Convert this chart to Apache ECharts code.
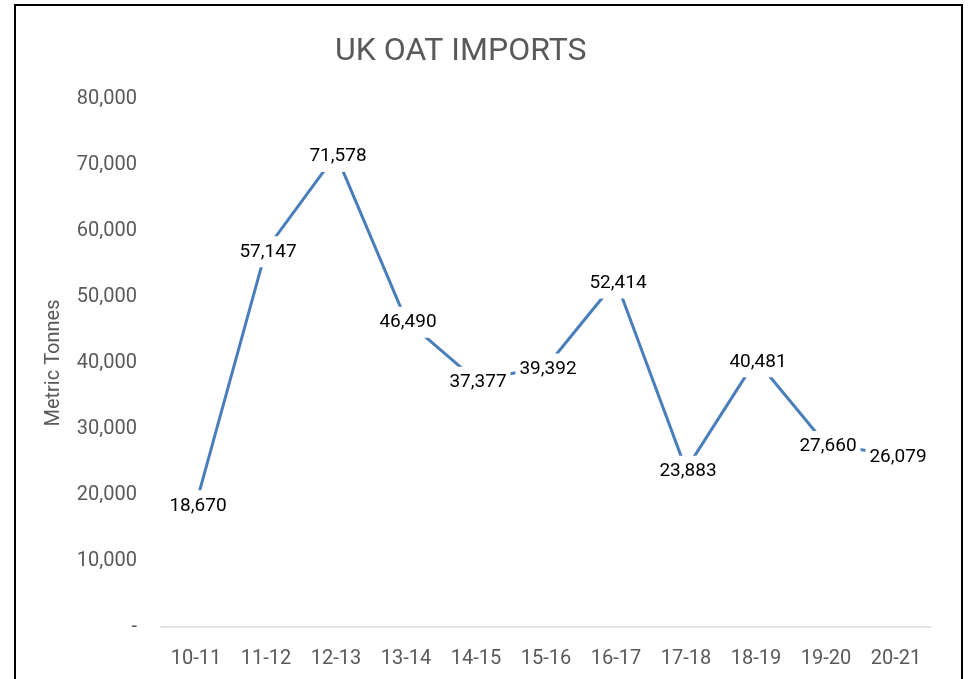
<!DOCTYPE html>
<html>
<head>
<meta charset="utf-8">
<script src="https://cdn.jsdelivr.net/npm/echarts@6/dist/echarts.min.js"></script>
<style>
  html, body { margin: 0; padding: 0; background: #fff; }
  #chart { width: 969px; height: 679px; }
</style>
</head>
<body>
<div id="chart"></div>
<script>
const seasons = ["10-11", "11-12", "12-13", "13-14", "14-15", "15-16", "16-17", "17-18", "18-19", "19-20", "20-21"];
const imports = [18670, 57147, 71578, 46490, 37377, 39392, 52414, 23883, 40481, 27660, 26079];

const myChart = echarts.init(document.getElementById("chart"));
const fmt = v => v === 0 ? "-" : v.toLocaleString("en-GB");

const option = {
  animation: false,
  textStyle: { fontFamily: "Roboto" },
  graphic: [{
    type: "rect",
    shape: { x: 15, y: 5, width: 947, height: 720 },
    style: { fill: "none", stroke: "#000", lineWidth: 2 },
    silent: true
  }],
  title: {
    text: "UK OAT IMPORTS",
    left: 330,
    top: 31,
    textStyle: { fontSize: 32, fontWeight: "normal", color: "#595959", fontFamily: "Roboto" }
  },
  grid: { left: 161, right: 38, top: 99, bottom: 52 },
  xAxis: {
    type: "category",
    data: seasons,
    axisLine: { lineStyle: { color: "#d9d9d9", width: 1.5 } },
    axisTick: { show: false },
    axisLabel: { color: "#595959", fontSize: 20, margin: 22 }
  },
  yAxis: {
    type: "value",
    min: 0,
    max: 80000,
    interval: 10000,
    name: "Metric Tonnes",
    nameLocation: "middle",
    nameGap: 97,
    nameTextStyle: { color: "#595959", fontSize: 20 },
    splitLine: { show: false },
    axisLine: { show: false },
    axisTick: { show: false },
    axisLabel: { color: "#595959", fontSize: 20, margin: 24, formatter: fmt }
  },
  series: [{
    type: "line",
    data: imports,
    symbol: "circle",
    symbolSize: 0.1,
    itemStyle: { color: "#4a7ebb" },
    lineStyle: { color: "#4a7ebb", width: 3 },
    label: {
      show: true,
      position: "inside",
      offset: [2, 2],
      color: "#000",
      fontSize: 19,
      backgroundColor: "#fff",
      padding: [6, 4],
      formatter: p => fmt(p.value)
    }
  }]
};

option && myChart.setOption(option);
</script>
</body>
</html>
